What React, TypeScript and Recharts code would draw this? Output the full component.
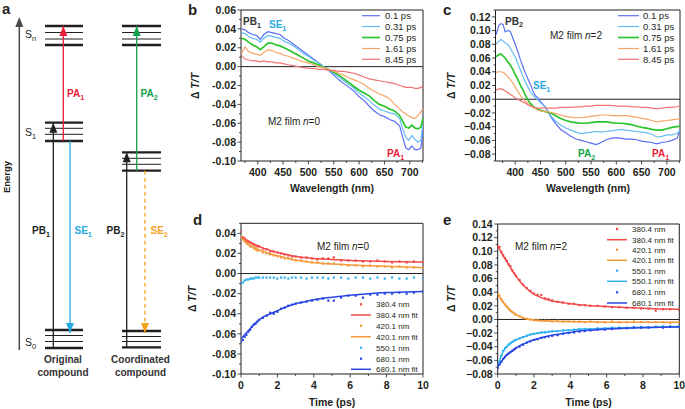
import React from 'react';
import { LineChart, ComposedChart, Line, Scatter, XAxis, YAxis, ReferenceLine, ReferenceArea } from 'recharts';

const FONT = '"Liberation Sans", Arial, Helvetica, sans-serif';
const INK = '#231f20';

// ---- panel b: M2 film n=0, transient spectra ----
const wlB = [368, 375, 382, 390, 398, 405, 412, 420, 428, 436, 444, 452, 460, 470, 480, 490, 500, 510, 520, 530, 540, 550, 560, 570, 580, 590, 600, 610, 620, 630, 640, 650, 660, 670, 680, 686, 692, 698, 704, 710, 716, 722, 726];
const b01 = [0.040, 0.039, 0.036, 0.034, 0.033, 0.029, 0.034, 0.037, 0.036, 0.035, 0.034, 0.030, 0.028, 0.024, 0.020, 0.016, 0.012, 0.008, 0.004, 0.000, -0.004, -0.009, -0.014, -0.018, -0.022, -0.026, -0.032, -0.036, -0.042, -0.047, -0.051, -0.053, -0.056, -0.058, -0.063, -0.075, -0.086, -0.088, -0.084, -0.088, -0.088, -0.086, -0.066];
const b031 = [0.036, 0.035, 0.032, 0.030, 0.029, 0.026, 0.030, 0.033, 0.032, 0.031, 0.030, 0.027, 0.025, 0.022, 0.018, 0.014, 0.011, 0.007, 0.004, 0.000, -0.003, -0.007, -0.011, -0.015, -0.019, -0.023, -0.028, -0.032, -0.036, -0.041, -0.045, -0.047, -0.049, -0.050, -0.055, -0.066, -0.075, -0.078, -0.073, -0.077, -0.080, -0.078, -0.058];
const b075 = [0.030, 0.029, 0.026, 0.023, 0.021, 0.018, 0.021, 0.025, 0.025, 0.023, 0.022, 0.020, 0.018, 0.015, 0.012, 0.009, 0.006, 0.004, 0.002, -0.001, -0.003, -0.006, -0.009, -0.013, -0.017, -0.021, -0.025, -0.028, -0.031, -0.036, -0.040, -0.042, -0.045, -0.047, -0.052, -0.058, -0.064, -0.065, -0.062, -0.065, -0.066, -0.064, -0.054];
const b161 = [0.014, 0.021, 0.016, 0.014, 0.013, 0.012, 0.015, 0.018, 0.017, 0.015, 0.014, 0.012, 0.011, 0.009, 0.007, 0.005, 0.004, 0.002, 0.000, -0.001, -0.003, -0.005, -0.007, -0.009, -0.012, -0.014, -0.016, -0.019, -0.023, -0.026, -0.029, -0.031, -0.034, -0.040, -0.045, -0.048, -0.050, -0.052, -0.054, -0.055, -0.052, -0.048, -0.044];
const b845 = [0.012, 0.008, 0.007, 0.006, 0.006, 0.005, 0.006, 0.005, 0.005, 0.004, 0.004, 0.003, 0.002, 0.001, 0.000, -0.001, -0.002, -0.002, -0.003, -0.003, -0.004, -0.004, -0.005, -0.005, -0.006, -0.007, -0.009, -0.011, -0.013, -0.014, -0.015, -0.016, -0.017, -0.018, -0.020, -0.021, -0.022, -0.022, -0.022, -0.023, -0.023, -0.022, -0.020];

// ---- panel c: M2 film n=2, transient spectra ----
const wlC = [362, 368, 372, 376, 380, 385, 390, 395, 400, 405, 410, 415, 420, 425, 430, 435, 440, 445, 450, 460, 470, 480, 490, 500, 510, 520, 530, 540, 550, 560, 570, 580, 590, 600, 610, 620, 630, 640, 650, 660, 670, 680, 690, 700, 710, 720, 726];
const c01 = [0.094, 0.108, 0.110, 0.109, 0.098, 0.100, 0.099, 0.090, 0.080, 0.070, 0.058, 0.048, 0.038, 0.030, 0.022, 0.012, 0.005, 0.002, -0.003, -0.012, -0.025, -0.036, -0.044, -0.049, -0.054, -0.058, -0.060, -0.062, -0.064, -0.066, -0.063, -0.059, -0.057, -0.056, -0.057, -0.058, -0.058, -0.059, -0.061, -0.062, -0.063, -0.065, -0.063, -0.062, -0.060, -0.057, -0.045];
const c031 = [0.080, 0.085, 0.087, 0.085, 0.082, 0.080, 0.075, 0.068, 0.062, 0.052, 0.043, 0.034, 0.025, 0.018, 0.011, 0.006, 0.002, -0.001, -0.005, -0.012, -0.024, -0.032, -0.038, -0.042, -0.045, -0.048, -0.050, -0.049, -0.048, -0.047, -0.048, -0.047, -0.046, -0.045, -0.044, -0.045, -0.046, -0.047, -0.048, -0.049, -0.051, -0.055, -0.054, -0.052, -0.052, -0.050, -0.046];
const c075 = [0.062, 0.065, 0.066, 0.063, 0.060, 0.055, 0.050, 0.044, 0.036, 0.029, 0.021, 0.014, 0.006, -0.001, -0.006, -0.010, -0.013, -0.015, -0.016, -0.018, -0.020, -0.024, -0.028, -0.031, -0.033, -0.034, -0.035, -0.035, -0.034, -0.033, -0.033, -0.033, -0.034, -0.035, -0.035, -0.036, -0.037, -0.039, -0.041, -0.042, -0.044, -0.045, -0.045, -0.043, -0.041, -0.040, -0.039];
const c161 = [0.039, 0.040, 0.040, 0.039, 0.037, 0.033, 0.029, 0.024, 0.018, 0.012, 0.006, 0.001, -0.003, -0.006, -0.009, -0.012, -0.014, -0.016, -0.017, -0.018, -0.019, -0.021, -0.023, -0.025, -0.026, -0.027, -0.027, -0.026, -0.025, -0.024, -0.023, -0.023, -0.024, -0.024, -0.024, -0.024, -0.025, -0.026, -0.028, -0.029, -0.031, -0.033, -0.032, -0.031, -0.030, -0.029, -0.028];
const c845 = [0.013, 0.015, 0.015, 0.014, 0.012, 0.010, 0.007, 0.005, 0.002, 0.000, -0.002, -0.004, -0.006, -0.008, -0.010, -0.011, -0.012, -0.013, -0.013, -0.013, -0.013, -0.013, -0.012, -0.012, -0.012, -0.011, -0.011, -0.010, -0.010, -0.009, -0.009, -0.009, -0.009, -0.010, -0.010, -0.010, -0.011, -0.011, -0.012, -0.012, -0.013, -0.014, -0.013, -0.012, -0.012, -0.011, -0.010];

const delayLabels = ['0.1 ps', '0.31 ps', '0.75 ps', '1.61 ps', '8.45 ps'];
const delayColors = ['#5a70f3', '#66bdf4', '#2cc42c', '#f6a566', '#f37373'];
const delayWidths = [1.2, 1.2, 1.7, 1.2, 1.2];

// ---- panels d, e: kinetics ----
const tPts = [0, 0.1, 0.2, 0.3, 0.4, 0.5, 0.6, 0.7, 0.8, 0.9, 1.0, 1.2, 1.4, 1.6, 1.8, 2.0, 2.2, 2.4, 2.6, 2.8, 3.0, 3.3, 3.6, 3.9, 4.2, 4.5, 4.8, 5.1, 5.5, 5.9, 6.3, 6.7, 7.1, 7.5, 7.9, 8.3, 8.7, 9.1, 9.5, 10.0];
const tFit = [0, 0.25, 0.5, 0.75, 1, 1.25, 1.5, 1.75, 2, 2.5, 3, 3.5, 4, 4.5, 5, 6, 7, 8, 9, 10];

const d380 = [0.042, 0.036, 0.035, 0.033, 0.032, 0.031, 0.030, 0.029, 0.028, 0.027,
  0.027, 0.025, 0.024, 0.022, 0.022, 0.021, 0.020, 0.019, 0.018, 0.017,
  0.017, 0.016, 0.016, 0.015, 0.014, 0.015, 0.015, 0.016, 0.013, 0.013,
  0.013, 0.012, 0.012, 0.013, 0.012, 0.011, 0.012, 0.011, 0.012, 0.011];
const d420 = [0.037, 0.034, 0.032, 0.030, 0.029, 0.027, 0.027, 0.025, 0.024, 0.023,
  0.023, 0.021, 0.020, 0.019, 0.018, 0.017, 0.016, 0.015, 0.015, 0.014,
  0.013, 0.013, 0.012, 0.011, 0.011, 0.010, 0.010, 0.010, 0.009, 0.008,
  0.008, 0.007, 0.008, 0.007, 0.007, 0.006, 0.007, 0.006, 0.006, 0.006];
const d550 = [-0.010, -0.009, -0.007, -0.006, -0.006, -0.005, -0.005, -0.005, -0.004, -0.004,
  -0.004, -0.004, -0.004, -0.004, -0.004, -0.005, -0.004, -0.004, -0.005, -0.004,
  -0.004, -0.004, -0.005, -0.004, -0.004, -0.004, -0.005, -0.004, -0.004, -0.005,
  -0.004, -0.004, -0.005, -0.004, -0.005, -0.004, -0.005, -0.005, -0.004, -0.005];
const d680 = [-0.068, -0.066, -0.063, -0.061, -0.058, -0.056, -0.053, -0.051, -0.050, -0.048,
  -0.046, -0.044, -0.042, -0.039, -0.040, -0.038, -0.035, -0.034, -0.032, -0.031,
  -0.030, -0.029, -0.028, -0.027, -0.026, -0.025, -0.027, -0.027, -0.024, -0.022,
  -0.022, -0.024, -0.021, -0.021, -0.020, -0.020, -0.019, -0.020, -0.019, -0.018];
const d380Fit = [0.037, 0.034, 0.031, 0.029, 0.027, 0.025, 0.024, 0.022, 0.021, 0.019, 0.017, 0.016, 0.015, 0.0145, 0.014, 0.013, 0.0125, 0.012, 0.0117, 0.0115];
const d420Fit = [0.036, 0.032, 0.028, 0.026, 0.0235, 0.022, 0.020, 0.019, 0.0178, 0.0155, 0.0135, 0.012, 0.011, 0.010, 0.0095, 0.0085, 0.0078, 0.0072, 0.0065, 0.0058];
const d680Fit = [-0.065, -0.060, -0.055, -0.050, -0.046, -0.043, -0.041, -0.039, -0.037, -0.033, -0.030, -0.028, -0.026, -0.0245, -0.0235, -0.0215, -0.020, -0.019, -0.0185, -0.018];

const e380 = [0.107, 0.106, 0.099, 0.094, 0.090, 0.086, 0.081, 0.078, 0.072, 0.068,
  0.064, 0.058, 0.051, 0.046, 0.042, 0.038, 0.036, 0.036, 0.031, 0.030,
  0.028, 0.026, 0.025, 0.023, 0.023, 0.021, 0.021, 0.020, 0.020, 0.019,
  0.018, 0.018, 0.017, 0.017, 0.016, 0.016, 0.013, 0.015, 0.015, 0.014];
const e420 = [0.038, 0.035, 0.030, 0.026, 0.022, 0.019, 0.016, 0.013, 0.011, 0.009,
  0.007, 0.005, 0.002, 0.001, 0.000, -0.001, -0.001, -0.002, -0.002, -0.002,
  -0.003, -0.002, -0.003, -0.003, -0.003, -0.003, -0.004, -0.003, -0.004, -0.004,
  -0.003, -0.004, -0.004, -0.003, -0.004, -0.004, -0.004, -0.004, -0.005, -0.004];
const e550 = [-0.070, -0.062, -0.053, -0.046, -0.042, -0.040, -0.037, -0.035, -0.033, -0.031,
  -0.030, -0.028, -0.026, -0.024, -0.022, -0.021, -0.020, -0.019, -0.019, -0.018,
  -0.017, -0.017, -0.016, -0.016, -0.015, -0.014, -0.014, -0.014, -0.013, -0.013,
  -0.012, -0.012, -0.012, -0.011, -0.011, -0.011, -0.011, -0.010, -0.010, -0.010];
const e680 = [-0.071, -0.066, -0.062, -0.058, -0.055, -0.052, -0.050, -0.048, -0.046, -0.044,
  -0.042, -0.040, -0.037, -0.034, -0.032, -0.030, -0.029, -0.027, -0.026, -0.025,
  -0.024, -0.023, -0.021, -0.020, -0.019, -0.018, -0.017, -0.016, -0.015, -0.015,
  -0.014, -0.013, -0.013, -0.012, -0.012, -0.012, -0.011, -0.012, -0.011, -0.011];
const e380Fit = [0.108, 0.096, 0.085, 0.074, 0.064, 0.055, 0.048, 0.042, 0.037, 0.031, 0.027, 0.025, 0.023, 0.0215, 0.0205, 0.019, 0.0175, 0.0165, 0.0155, 0.015];
const e420Fit = [0.038, 0.027, 0.019, 0.012, 0.007, 0.004, 0.0015, 0.000, -0.001, -0.002, -0.0025, -0.003, -0.003, -0.0035, -0.0035, -0.004, -0.004, -0.004, -0.004, -0.004];
const e550Fit = [-0.069, -0.050, -0.040, -0.034, -0.030, -0.027, -0.025, -0.0225, -0.021, -0.019, -0.0175, -0.0165, -0.0155, -0.0145, -0.014, -0.013, -0.012, -0.0115, -0.011, -0.0105];
const e680Fit = [-0.070, -0.060, -0.052, -0.047, -0.042, -0.038, -0.035, -0.032, -0.030, -0.026, -0.023, -0.021, -0.019, -0.017, -0.016, -0.014, -0.013, -0.012, -0.0115, -0.011];

const probeColors = { r: '#f04a4a', o: '#f39a3c', lb: '#2fb0ef', b: '#2744e3' };

// ---- ticks ----
const bXTicks = [375, 400, 425, 450, 475, 500, 525, 550, 575, 600, 625, 650, 675, 700, 725];
const bYTicks = [-0.1, -0.09, -0.08, -0.07, -0.06, -0.05, -0.04, -0.03, -0.02, -0.01, 0, 0.01, 0.02, 0.03, 0.04, 0.05, 0.06];
const cYTicks = [-0.09, -0.08, -0.07, -0.06, -0.05, -0.04, -0.03, -0.02, -0.01, 0, 0.01, 0.02, 0.03, 0.04, 0.05, 0.06, 0.07, 0.08, 0.09, 0.1, 0.11, 0.12, 0.13];
const tXTicks = [0, 1, 2, 3, 4, 5, 6, 7, 8, 9, 10];
const dYTicks = [-0.1, -0.09, -0.08, -0.07, -0.06, -0.05, -0.04, -0.03, -0.02, -0.01, 0, 0.01, 0.02, 0.03, 0.04, 0.05];
const eYTicks = [-0.08, -0.07, -0.06, -0.05, -0.04, -0.03, -0.02, -0.01, 0, 0.01, 0.02, 0.03, 0.04, 0.05, 0.06, 0.07, 0.08, 0.09, 0.1, 0.11, 0.12, 0.13, 0.14];

// ---- panel a: energy diagram ----
const leftLevelX = [45, 83];
const rightLevelX = [122, 161];
const snY = [26, 32.5, 39, 45];
const s1Y = [122.7, 128.3, 134.3, 141];
const s0Y = [330, 335.5, 341.5, 348];
const s1bY = [152.3, 158.3, 164.3, 170.7];
const s0bY = [331, 336.5, 341.5, 347.3];
const levelWeights = [2.3, 1, 1, 2.3];
// energy axis
const energyX = 19.3;
const energyY = [350, 17];
// transitions: PB1, PA1, SE1, PB2, PA2, SE2
const arrowX = [53.3, 63.3, 70, 126.7, 136.7, 145];
const arrowFrom = [348, 141, 141, 347.3, 170.7, 170.7];
const arrowTo = [122.7, 26, 333, 152.3, 26, 333];
const arrowColors = [INK, '#ec1c3a', '#27aae1', INK, '#12a14b', '#f7a21b'];
const arrowDashes = ['', '', '', '', '', '4 3'];

const txt = { fontFamily: FONT, fill: INK };

const isMajorY = (v: number) => Math.round(Math.abs(v) * 100) % 2 === 0;
const fmtY = (v: number, trueMinus: boolean) => {
  const s = v.toFixed(2);
  return trueMinus ? s.replace('-', '\u2212') : s;
};

function makeYTick(trueMinus: boolean) {
  return (props: any) => {
    const { x, y, payload } = props;
    const major = isMajorY(payload.value);
    return (
      <g>
        <line x1={x - (major ? 3.5 : 2)} x2={x} y1={y} y2={y} stroke={INK} strokeWidth={0.8} />
        {major && (
          <text x={x - 5} y={y + 3.7} textAnchor="end" fontSize={10.5} fontWeight="bold" {...txt}>
            {fmtY(payload.value, trueMinus)}
          </text>
        )}
      </g>
    );
  };
}

function makeXTick(majorStep: number) {
  return (props: any) => {
    const { x, y, payload } = props;
    const major = Math.abs(payload.value % majorStep) < 1e-9;
    return (
      <g>
        <line x1={x} x2={x} y1={y} y2={y + (major ? 3.5 : 2)} stroke={INK} strokeWidth={0.8} />
        {major && (
          <text x={x} y={y + 15} textAnchor="middle" fontSize={10.5} fontWeight="bold" {...txt}>
            {payload.value}
          </text>
        )}
      </g>
    );
  };
}

const dotShape = (color: string) => (p: any) => (
  <rect x={p.cx - 1.1} y={p.cy - 1.1} width={2.2} height={2.2} fill={color} />
);

function series(xs: number[], ys: number[]) {
  return xs.map((t, i) => ({ t, v: ys[i] }));
}

function Spectra({ wl, sets, xDomain, yDomain, yTicks, trueMinus, width, height, yAxisWidth, right }: any) {
  const data = wl.map((w: number, i: number) => {
    const row: any = { wl: w };
    sets.forEach((s: number[], k: number) => { row['s' + k] = s[i]; });
    return row;
  });
  return (
    <LineChart width={width} height={height} data={data} margin={{ top: 10, right, bottom: 0, left: 0 }}>
      <XAxis type="number" dataKey="wl" domain={xDomain} ticks={bXTicks} interval={0} allowDataOverflow
        axisLine={false} tickLine={false} tickSize={0} tickMargin={0} height={39} tick={makeXTick(50)} />
      <YAxis type="number" domain={yDomain} ticks={yTicks} interval={0} allowDataOverflow
        axisLine={false} tickLine={false} tickSize={0} tickMargin={0} width={yAxisWidth} tick={makeYTick(trueMinus)} />
      <ReferenceArea x1={xDomain[0]} x2={xDomain[1]} y1={yDomain[0]} y2={yDomain[1]} fill="none" stroke={INK} strokeWidth={1} ifOverflow="visible" />
      <ReferenceLine y={0} stroke={INK} strokeWidth={1} />
      {sets.map((_: number[], k: number) => (
        <Line key={k} type="linear" dataKey={'s' + k} stroke={delayColors[k]} strokeWidth={delayWidths[k]} dot={false} isAnimationActive={false} />
      ))}
    </LineChart>
  );
}

function Kinetics({ pts, fits, yDomain, yTicks, trueMinus, width, height, yAxisWidth, right, top }: any) {
  return (
    <ComposedChart width={width} height={height} margin={{ top, right, bottom: 0, left: 0 }}>
      <XAxis type="number" dataKey="t" domain={[0, 10]} ticks={tXTicks} interval={0} allowDataOverflow
        axisLine={false} tickLine={false} tickSize={0} tickMargin={0} height={35} tick={makeXTick(2)} />
      <YAxis type="number" domain={yDomain} ticks={yTicks} interval={0} allowDataOverflow
        axisLine={false} tickLine={false} tickSize={0} tickMargin={0} width={yAxisWidth} tick={makeYTick(trueMinus)} />
      <ReferenceArea x1={0} x2={10} y1={yDomain[0]} y2={yDomain[1]} fill="none" stroke={INK} strokeWidth={1} ifOverflow="visible" />
      <ReferenceLine y={0} stroke={INK} strokeWidth={1} />
      {pts.map((p: any) => (
        <Scatter key={'p' + p.key} data={series(tPts, p.values)} dataKey="v" fill={p.color}
          shape={dotShape(p.color)} isAnimationActive={false} />
      ))}
      {fits.map((f: any) => (
        <Line key={'f' + f.key} data={series(tFit, f.values)} dataKey="v" type="monotone" stroke={f.color}
          strokeWidth={1.5} dot={false} isAnimationActive={false} />
      ))}
    </ComposedChart>
  );
}

function levelLines(xs: number[], ys: number[], tag: string) {
  return ys.map((y, i) => (
    <ReferenceLine key={tag + i} segment={[{ x: xs[0], y }, { x: xs[1], y }]} stroke={INK}
      strokeWidth={levelWeights[i]} ifOverflow="visible" />
  ));
}

const arrowHeadShape = (p: any) => {
  const { cx, cy, payload } = p;
  const len = payload.up ? 10 : -10;
  return <path d={`M${cx},${cy} l-4,${len} l8,0 z`} fill={payload.color} stroke="none" />;
};

function Diagram() {
  const heads = [
    { x: energyX, y: energyY[1], up: true, color: '#4a4a4a' },
    ...arrowX.map((x, i) => ({ x, y: arrowTo[i], up: arrowTo[i] < arrowFrom[i], color: arrowColors[i] })),
  ];
  return (
    <ComposedChart width={210} height={409} margin={{ top: 0, right: 0, bottom: 0, left: 0 }}>
      <XAxis type="number" dataKey="x" domain={[0, 210]} hide allowDataOverflow />
      <YAxis type="number" domain={[0, 409]} reversed hide allowDataOverflow />
      {levelLines(leftLevelX, snY, 'snL')}
      {levelLines(leftLevelX, s1Y, 's1L')}
      {levelLines(leftLevelX, s0Y, 's0L')}
      {levelLines(rightLevelX, snY, 'snR')}
      {levelLines(rightLevelX, s1bY, 's1R')}
      {levelLines(rightLevelX, s0bY, 's0R')}
      <ReferenceLine segment={[{ x: energyX, y: energyY[0] }, { x: energyX, y: energyY[1] + 4 }]}
        stroke="#4a4a4a" strokeWidth={1.5} ifOverflow="visible" />
      {arrowX.map((x, i) => (
        <ReferenceLine key={'ar' + i} segment={[{ x, y: arrowFrom[i] }, { x, y: arrowTo[i] }]}
          stroke={arrowColors[i]} strokeWidth={1.3} strokeDasharray={arrowDashes[i] || undefined} ifOverflow="visible" />
      ))}
      <Scatter data={heads} dataKey="y" shape={arrowHeadShape} isAnimationActive={false} />
    </ComposedChart>
  );
}

function Sub({ x, y, base, sub, color = INK, size = 10, weight = 'bold' }: any) {
  return (
    <text x={x} y={y} fontSize={size} fontWeight={weight} fontFamily={FONT} fill={color}>
      {base}<tspan fontSize={size * 0.72} dy={size * 0.28}>{sub}</tspan>
    </text>
  );
}

function YTitle({ cx, cy }: any) {
  return (
    <text x={cx} y={cy} transform={`rotate(-90 ${cx} ${cy})`} textAnchor="middle" fontSize={10.5} fontWeight="bold" {...txt}>
      {'\u0394 '}<tspan fontStyle="italic">T/T</tspan>
    </text>
  );
}

function FilmLabel({ x, y, n }: any) {
  return (
    <text x={x} y={y} fontSize={10} {...txt}>
      M2 film <tspan fontStyle="italic">n</tspan>={n}
    </text>
  );
}

const bLegY = [15.7, 26.5, 37.5, 48.5, 59.3];
const dLegLabels = ['380.4 nm', '380.4 nm fit', '420.1 nm', '420.1 nm fit', '550.1 nm', '680.1 nm', '680.1 nm fit'];
const dLegColors = [probeColors.r, probeColors.r, probeColors.o, probeColors.o, probeColors.lb, probeColors.b, probeColors.b];
const dLegY = [304.3, 315, 325.7, 336.7, 347.7, 358.7, 369.3];
const eLegLabels = ['380.4 nm', '380.4 nm fit', '420.1 nm', '420.1 nm fit', '550.1 nm', '550.1 nm fit', '680.1 nm', '680.1 nm fit'];
const eLegColors = [probeColors.r, probeColors.r, probeColors.o, probeColors.o, probeColors.lb, probeColors.lb, probeColors.b, probeColors.b];
const eLegY = [229, 239.7, 249.7, 260.3, 270.7, 281.3, 292.3, 303];

function KinLegend({ labels, colors, ys, x0 }: any) {
  return (
    <g>
      {labels.map((lab: string, i: number) => (
        <g key={lab}>
          {lab.endsWith('fit')
            ? <line x1={x0} x2={x0 + 20} y1={ys[i]} y2={ys[i]} stroke={colors[i]} strokeWidth={1.5} />
            : <rect x={x0 + 9} y={ys[i] - 1.1} width={2.2} height={2.2} fill={colors[i]} />}
          <text x={x0 + 25} y={ys[i] + 3} fontSize={8} {...txt}>{lab}</text>
        </g>
      ))}
    </g>
  );
}

export default function App() {
  const kinD = {
    pts: [
      { key: 'r', values: d380, color: probeColors.r },
      { key: 'o', values: d420, color: probeColors.o },
      { key: 'lb', values: d550, color: probeColors.lb },
      { key: 'b', values: d680, color: probeColors.b },
    ],
    fits: [
      { key: 'r', values: d380Fit, color: probeColors.r },
      { key: 'o', values: d420Fit, color: probeColors.o },
      { key: 'b', values: d680Fit, color: probeColors.b },
    ],
  };
  const kinE = {
    pts: [
      { key: 'r', values: e380, color: probeColors.r },
      { key: 'o', values: e420, color: probeColors.o },
      { key: 'lb', values: e550, color: probeColors.lb },
      { key: 'b', values: e680, color: probeColors.b },
    ],
    fits: [
      { key: 'r', values: e380Fit, color: probeColors.r },
      { key: 'o', values: e420Fit, color: probeColors.o },
      { key: 'lb', values: e550Fit, color: probeColors.lb },
      { key: 'b', values: e680Fit, color: probeColors.b },
    ],
  };

  return (
    <div style={{ position: 'absolute', left: 0, top: 0, width: 685, height: 409, background: '#fff', overflow: 'hidden' }}>
      <div style={{ position: 'absolute', left: 0, top: 0 }}>
        <Diagram />
      </div>
      <div style={{ position: 'absolute', left: 190, top: 0 }}>
        <Spectra wl={wlB} sets={[b01, b031, b075, b161, b845]} xDomain={[367, 726]} yDomain={[-0.1, 0.06]}
          yTicks={bYTicks} trueMinus={false} width={250} height={200} yAxisWidth={51} right={17} />
      </div>
      <div style={{ position: 'absolute', left: 450, top: 0 }}>
        <Spectra wl={wlC} sets={[c01, c031, c075, c161, c845]} xDomain={[361, 726]} yDomain={[-0.09, 0.13]}
          yTicks={cYTicks} trueMinus={true} width={235} height={200} yAxisWidth={45.5} right={5} />
      </div>
      <div style={{ position: 'absolute', left: 190, top: 210 }}>
        <Kinetics {...kinD} yDomain={[-0.1, 0.05]} yTicks={dYTicks} trueMinus={false}
          width={250} height={199} yAxisWidth={51} right={17} top={13.3} />
      </div>
      <div style={{ position: 'absolute', left: 450, top: 210 }}>
        <Kinetics {...kinE} yDomain={[-0.08, 0.14]} yTicks={eYTicks} trueMinus={true}
          width={235} height={199} yAxisWidth={47.7} right={5.7} top={14} />
      </div>

      <svg width={685} height={409} style={{ position: 'absolute', left: 0, top: 0, pointerEvents: 'none' }}>
        {/* panel letters */}
        <text x={2} y={14} fontSize={15} fontWeight="bold" {...txt}>a</text>
        <text x={188} y={15} fontSize={15} fontWeight="bold" {...txt}>b</text>
        <text x={443} y={15} fontSize={15} fontWeight="bold" {...txt}>c</text>
        <text x={193} y={225} fontSize={15} fontWeight="bold" {...txt}>d</text>
        <text x={443} y={225} fontSize={15} fontWeight="bold" {...txt}>e</text>

        {/* panel a labels */}
        <text x={9.5} y={177} transform="rotate(-90 9.5 177)" textAnchor="middle" fontSize={9.5} fontWeight="bold" {...txt}>Energy</text>
        <Sub x={25} y={38} base="S" sub="n" weight="normal" size={10.5} />
        <Sub x={25} y={136} base="S" sub="1" weight="normal" size={10.5} />
        <Sub x={25} y={346} base="S" sub="0" weight="normal" size={10.5} />
        <Sub x={67} y={97} base="PA" sub="1" color="#ec1c3a" />
        <Sub x={32} y={234} base="PB" sub="1" />
        <Sub x={74.5} y={234} base="SE" sub="1" color="#27aae1" />
        <Sub x={106.5} y={234} base="PB" sub="2" />
        <Sub x={140.5} y={97} base="PA" sub="2" color="#12a14b" />
        <Sub x={150.5} y={234} base="SE" sub="2" color="#f7a21b" />
        <text x={63} y={363} textAnchor="middle" fontSize={10} fontWeight="bold" {...txt} fill="#333">Original</text>
        <text x={63} y={375.5} textAnchor="middle" fontSize={10} fontWeight="bold" {...txt} fill="#333">compound</text>
        <text x={140.5} y={363} textAnchor="middle" fontSize={10} fontWeight="bold" {...txt} fill="#333">Coordinated</text>
        <text x={140.5} y={375.5} textAnchor="middle" fontSize={10} fontWeight="bold" {...txt} fill="#333">compound</text>

        {/* panel b */}
        <YTitle cx={199} cy={86} />
        <Sub x={243} y={25} base="PB" sub="1" color="#333" />
        <Sub x={269} y={28} base="SE" sub="1" color="#27aae1" />
        <FilmLabel x={268} y={125} n={0} />
        <Sub x={387} y={157} base="PA" sub="1" color="#ec1c3a" />
        <text x={332} y={192} textAnchor="middle" fontSize={10.5} fontWeight="bold" {...txt}>Wavelength (nm)</text>
        {delayLabels.map((lab, i) => (
          <g key={'bl' + lab}>
            <line x1={362} x2={380} y1={bLegY[i]} y2={bLegY[i]} stroke={delayColors[i]} strokeWidth={delayWidths[i]} />
            <text x={385} y={bLegY[i] + 3.3} fontSize={9.5} {...txt}>{lab}</text>
          </g>
        ))}

        {/* panel c */}
        <YTitle cx={455} cy={86} />
        <Sub x={505} y={24.5} base="PB" sub="2" color="#333" />
        <FilmLabel x={550} y={38.5} n={2} />
        <Sub x={533} y={89} base="SE" sub="1" color="#27aae1" />
        <Sub x={578} y={157} base="PA" sub="2" color="#12a14b" />
        <Sub x={652} y={157} base="PA" sub="1" color="#ec1c3a" />
        <text x={588} y={192} textAnchor="middle" fontSize={10.5} fontWeight="bold" {...txt}>Wavelength (nm)</text>
        {delayLabels.map((lab, i) => (
          <g key={'cl' + lab}>
            <line x1={618} x2={639} y1={bLegY[i]} y2={bLegY[i]} stroke={delayColors[i]} strokeWidth={delayWidths[i]} />
            <text x={643} y={bLegY[i] + 3.3} fontSize={9.5} {...txt}>{lab}</text>
          </g>
        ))}

        {/* panel d */}
        <YTitle cx={196} cy={299} />
        <FilmLabel x={317} y={250} n={0} />
        <text x={332} y={406} textAnchor="middle" fontSize={10.5} fontWeight="bold" {...txt}>Time (ps)</text>
        <KinLegend labels={dLegLabels} colors={dLegColors} ys={dLegY} x0={351} />

        {/* panel e */}
        <YTitle cx={455} cy={299} />
        <FilmLabel x={515} y={250} n={2} />
        <text x={588.5} y={406} textAnchor="middle" fontSize={10.5} fontWeight="bold" {...txt}>Time (ps)</text>
        <KinLegend labels={eLegLabels} colors={eLegColors} ys={eLegY} x0={607} />
      </svg>
    </div>
  );
}
